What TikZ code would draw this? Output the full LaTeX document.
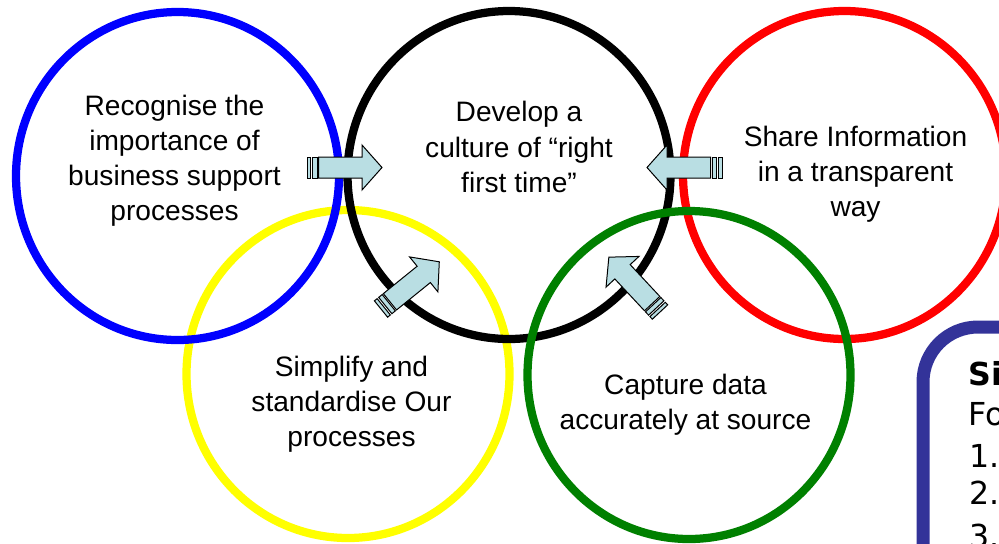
\documentclass[tikz,border=0pt]{standalone}
\usepackage{fontspec}
\setmainfont{Liberation Sans}
\newfontfamily\panelfont{DejaVu Sans}
\usetikzlibrary{shapes.geometric}

\definecolor{ringblue}{RGB}{0,0,255}
\definecolor{ringred}{RGB}{255,0,0}
\definecolor{ringyellow}{RGB}{255,255,0}
\definecolor{ringgreen}{RGB}{0,128,0}
\definecolor{arrowfill}{RGB}{185,222,227}
\definecolor{panelblue}{RGB}{51,51,153}

% block arrow with two stripes at the tail, tail at the origin, pointing along x
\tikzset{
  stripedarrow/.pic={
    \path[arrowpart] (0,-10.5) rectangle (3.5,10.5);
    \path[arrowpart] (5.5,-10.5) rectangle (10,10.5);
    \path[arrowpart] (11.5,-10.5) -- (55,-10.5) -- (55,-22.5) -- (75,0)
      -- (55,22.5) -- (55,10.5) -- (11.5,10.5) -- cycle;
  }
}

\begin{document}
\begin{tikzpicture}[x=0.2mm,y=-0.2mm,
  ring/.style={ellipse,draw=#1,line width=1.65mm,minimum width=64.6mm,
    minimum height=65.6mm,inner sep=0pt},
  ringtext/.style={align=center,inner sep=0pt,
    font=\fontsize{16}{20}\selectfont},
  arrowpart/.style={draw=black,fill=arrowfill,line width=0.2mm},
  panelline/.style={anchor=base west,inner sep=0pt,
    font=\panelfont\fontsize{18}{22}\selectfont}]

\clip (0,0) rectangle (999,543);
\fill[white] (0,0) rectangle (999,543);

% rings
\node[ring=ringyellow] (simplify) at (348,374) {};
\node[ring=ringblue] (recognise) at (177.5,176) {};
\node[ring=black] (develop) at (509,175) {};
\node[ring=ringred] (share) at (844.5,175) {};
\node[ring=ringgreen] (capture) at (689,375) {};

\node[ringtext] (recognisetext) at (174.5,160.5)
  {Recognise the\\importance of\\business support\\processes};
\node[ringtext] (developtext) at (519,147)
  {Develop a\\culture of “right\\first time”};
\node[ringtext] (sharetext) at (855.5,174.5)
  {Share Information\\in a transparent\\way};
\node[ringtext] (simplifytext) at (351.5,404)
  {Simplify and\\standardise Our\\processes};
\node[ringtext] (capturetext) at (685.5,405)
  {Capture data\\accurately at source};

% arrows into the middle ring
\pic[rotate=0] at (307,167.5) {stripedarrow};
\pic[rotate=180] at (722,167.5) {stripedarrow};
\pic[rotate=39] at (381,309) {stripedarrow};
\pic[rotate=133] at (660,312) {stripedarrow};

% panel
\draw[panelblue,line width=2.6mm,rounded corners=11mm,fill=white]
  (923,327) rectangle (1150,720);
\node[panelline] (panelhead) at (968,385) {\textbf{Si}};
\node[panelline] (panelsub) at (968,425) {Fo};
\node[panelline] (itemone) at (969,467) {1.};
\node[panelline] (itemtwo) at (969,504) {2.};
\node[panelline] (itemthree) at (969,547) {3.};

\end{tikzpicture}
\end{document}
